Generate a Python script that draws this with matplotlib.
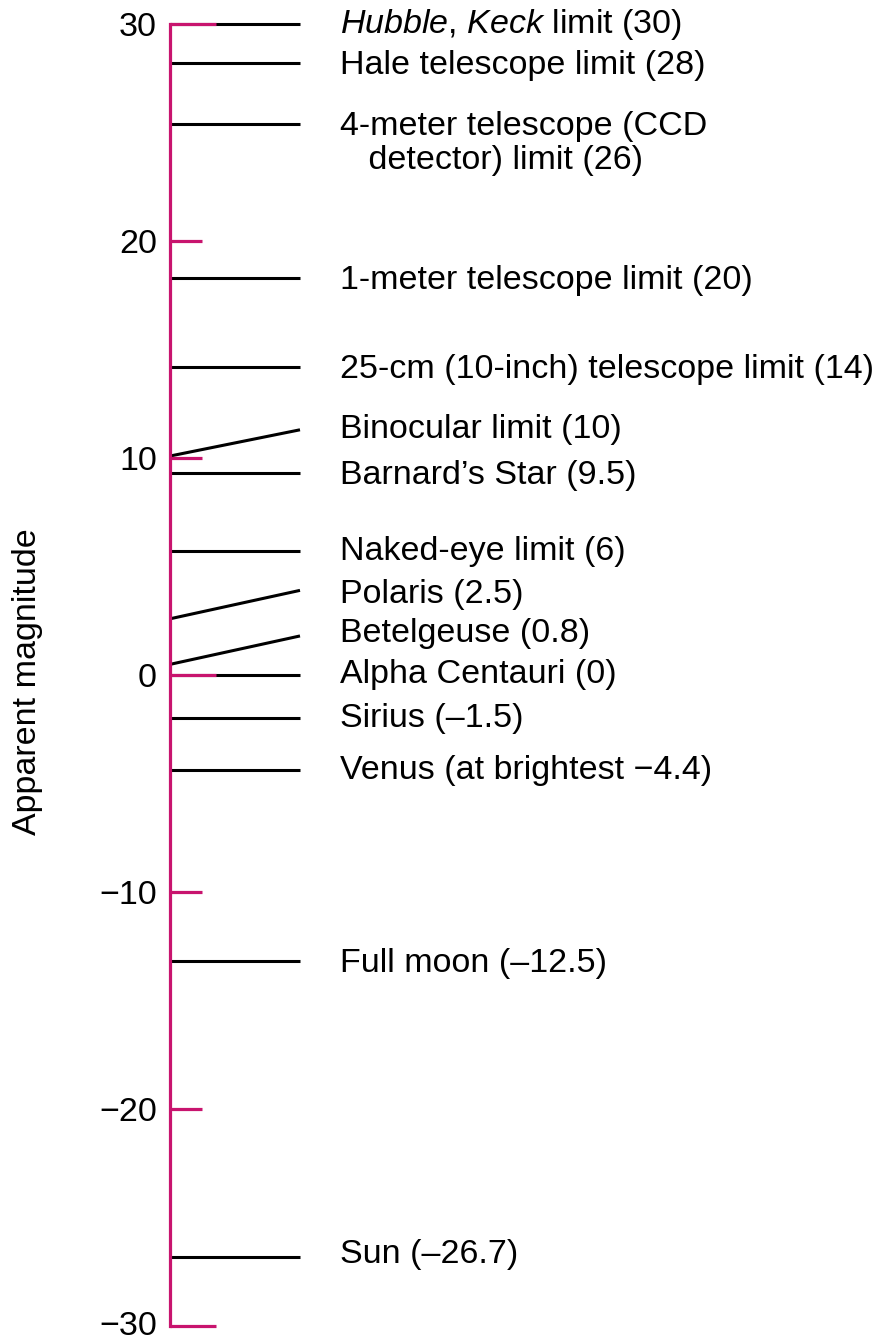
import matplotlib
matplotlib.use("Agg")
import matplotlib.pyplot as plt
import matplotlib.transforms as mtransforms

plt.rcParams['font.family'] = ['Liberation Sans', 'DejaVu Sans']
plt.rcParams['mathtext.fontset'] = 'custom'
plt.rcParams['mathtext.rm'] = 'Liberation Sans'
plt.rcParams['mathtext.it'] = 'Liberation Sans:italic'

# Подписи объектов и их видимая звёздная величина
labels = [
    r"$\it{Hubble}$, $\it{Keck}$ limit (30)",
    "Hale telescope limit (28)",
    "4-meter telescope (CCD\n   detector) limit (26)",
    "1-meter telescope limit (20)",
    "25-cm (10-inch) telescope limit (14)",
    "Binocular limit (10)",
    "Barnard\u2019s Star (9.5)",
    "Naked-eye limit (6)",
    "Polaris (2.5)",
    "Betelgeuse (0.8)",
    "Alpha Centauri (0)",
    "Sirius (\u20131.5)",
    "Venus (at brightest \u22124.4)",
    "Full moon (\u201312.5)",
    "Sun (\u201326.7)",
]
# концы линий на шкале (как на рисунке, схематично)
line_left = [30.0, 28.2, 25.4, 18.3, 14.2, 10.1, 9.3, 5.7, 2.6, 0.5, 0.0, -2.0, -4.4, -13.2, -26.8]
line_right = [30.0, 28.2, 25.4, 18.3, 14.2, 11.3, 9.3, 5.7, 3.9, 1.8, 0.0, -2.0, -4.4, -13.2, -26.8]
label_y = [30.0, 28.1, 24.5, 18.2, 14.1, 11.3, 9.2, 5.7, 3.7, 1.9, 0.0, -2.0, -4.4, -13.3, -26.7]

ticks = [30, 20, 10, 0, -10, -20, -30]
tick_len = [46, 32, 32, 46, 32, 32, 46]

magenta = "#c8146e"

fig = plt.figure(figsize=(8.78, 13.42), dpi=100)
ax = fig.add_axes([170 / 878, 16 / 1342, 708 / 878, 1302 / 1342])
ax.set_xlim(0, 708)
ax.set_ylim(-30, 30)

for s in ["top", "right", "bottom"]:
    ax.spines[s].set_visible(False)
ax.spines["left"].set_color(magenta)
ax.spines["left"].set_linewidth(2.3)
ax.spines["left"].set_zorder(5)

ax.set_xticks([])
ax.set_yticks(ticks)
ax.tick_params(axis="y", length=0, pad=9.5, labelsize=24.5)

# нижнюю подпись чуть приподнимаем, чтобы не обрезалась
bottom_lab = ax.get_yticklabels()[-1]
bottom_lab.set_transform(bottom_lab.get_transform() +
                         mtransforms.ScaledTranslation(0, 3 / 100, fig.dpi_scale_trans))

for yl, yr in zip(line_left, line_right):
    ax.plot([1, 130], [yl, yr], color="black", lw=2.2, solid_capstyle="butt",
            zorder=2, clip_on=False)

ax.hlines(ticks, 0, tick_len, color=magenta, lw=2.3, zorder=4, clip_on=False)

for lab, y in zip(labels, label_y):
    ax.text(170, y, lab, fontsize=24.5, va="center", ha="left",
            linespacing=1.15, clip_on=False)

fig.text(28 / 878, 1 - 682 / 1342, "Apparent magnitude", rotation=90,
         fontsize=24.5, ha="center", va="center")

fig.savefig("out.png", dpi=100)
